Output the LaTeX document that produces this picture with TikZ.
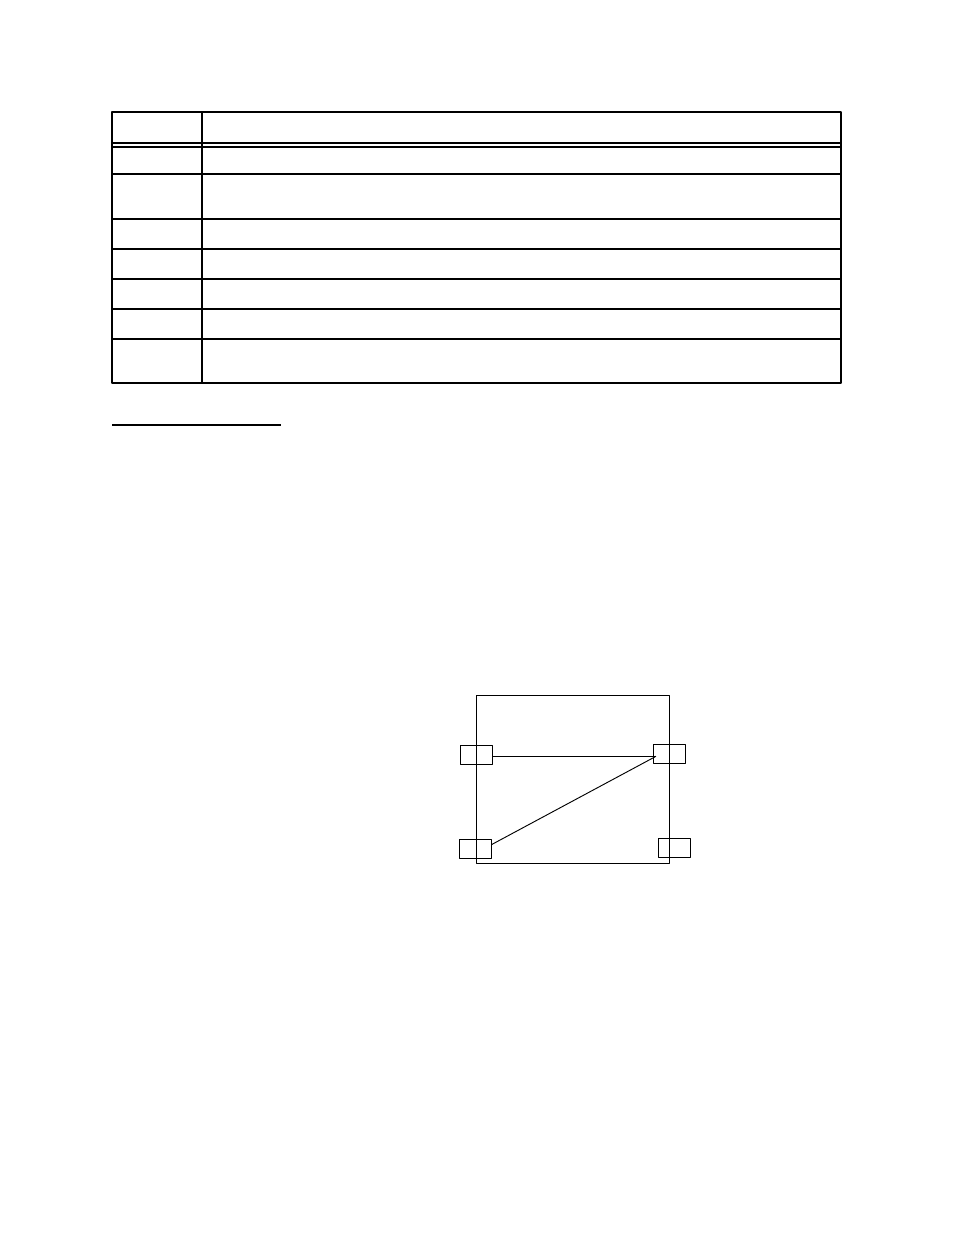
\documentclass[tikz,border=0pt]{standalone}
\usetikzlibrary{positioning}
\tikzset{port/.style={draw,inner sep=0pt,minimum width=20.5pt,minimum height=12.2pt}}
\begin{document}
\begin{tikzpicture}[x=0.6415pt,y=-0.6415pt,line join=round,line width=0.8pt]
			\useasboundingbox (0,0) rectangle (954,1235);
			\draw (112,112) rectangle (841,383);
			\draw (202,112)--(202,383);
			\foreach \y in {143,147,174,219,249,279,309,339} \draw (112,\y)--(841,\y);
			\draw (112,425)--(281,425);
			\begin{scope}[line width=0.6pt]
			\draw (476,695) rectangle (669,863);
			\node[port] (tl) at (476.3,754.8) {};
			\node[port] (tr) at (669.5,754.3) {};
			\node[port] (bl) at (475.5,848.8) {};
			\node[port] (br) at (674.5,847.8) {};
			\coordinate (trend) at (656,756.3);
			\draw (tl.east |- trend)--(trend);
			\draw (bl.15)--(trend);
			\end{scope}
		\end{tikzpicture}
\end{document}
